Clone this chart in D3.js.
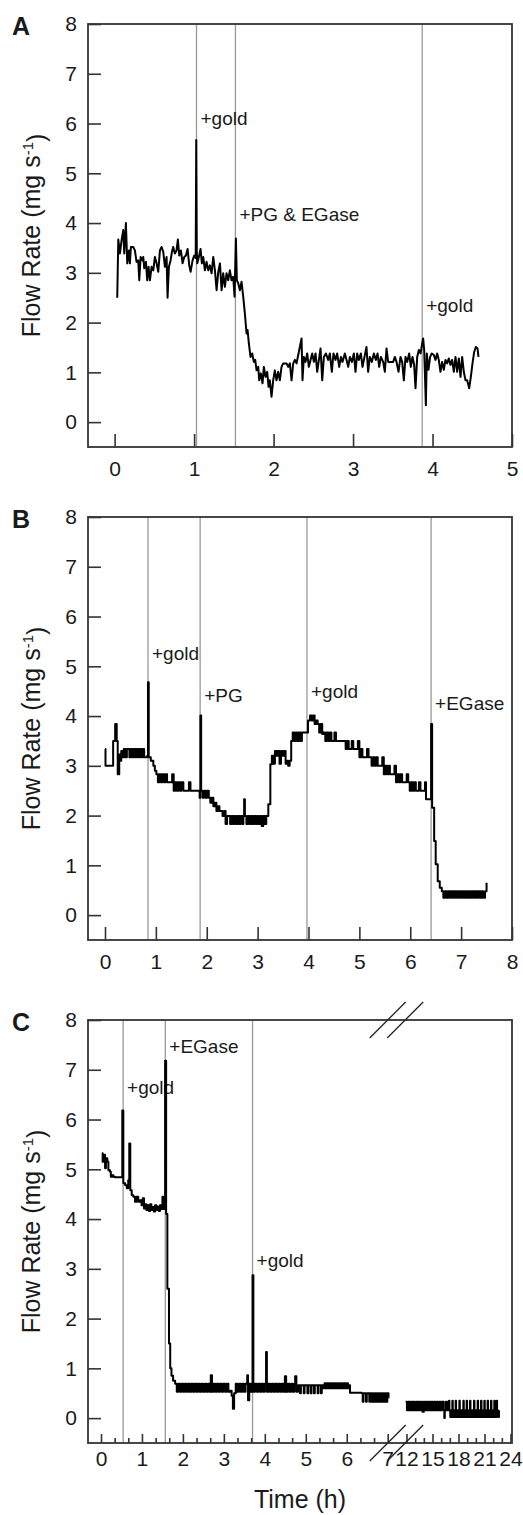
<!DOCTYPE html>
<html>
<head>
<meta charset="utf-8">
<script src="https://cdn.jsdelivr.net/npm/d3@7"></script>
<style>
  body { margin: 0; background: #fff; }
  text { font-family: "Liberation Sans", Arial, sans-serif; fill: #1a1a1a; }
</style>
</head>
<body>
<div id="chart"></div>
<script>

// ---- data (time in h, flow rate in mg s-1) ----

const flowA = [
  [0.033,2.50],[0.046,3.67],[0.067,3.39],[0.088,3.66],[0.109,3.86],[0.121,3.39],[0.142,4.00],[0.159,3.19],
  [0.180,3.45],[0.192,3.19],[0.205,3.52],[0.234,3.52],[0.255,3.45],[0.276,3.22],[0.297,3.25],[0.310,2.85],
  [0.327,3.32],[0.348,3.25],[0.360,3.32],[0.373,3.09],[0.394,3.22],[0.410,2.85],[0.427,3.12],[0.444,2.85],
  [0.465,3.12],[0.486,3.05],[0.507,3.32],[0.528,3.19],[0.549,3.02],[0.570,3.45],[0.591,3.52],[0.612,3.42],
  [0.633,3.12],[0.654,3.32],[0.666,2.50],[0.683,3.12],[0.704,3.25],[0.721,3.42],[0.737,3.52],[0.758,3.39],
  [0.779,3.45],[0.796,3.67],[0.813,3.35],[0.834,3.45],[0.855,3.19],[0.876,3.32],[0.897,3.35],[0.918,3.48],
  [0.939,3.15],[0.956,3.02],[0.981,3.25],[1.002,3.35],[1.020,3.30],[1.027,5.67],[1.034,3.40],[1.040,3.19],
  [1.060,3.32],[1.081,3.48],[1.098,3.19],[1.115,3.32],[1.136,3.05],[1.157,3.22],[1.178,3.05],[1.199,3.15],
  [1.220,2.99],[1.241,3.32],[1.262,3.05],[1.283,2.65],[1.304,3.02],[1.325,3.19],[1.346,2.65],[1.366,2.99],
  [1.387,2.72],[1.408,2.99],[1.429,2.85],[1.450,3.05],[1.471,2.85],[1.492,2.92],[1.509,2.52],[1.526,3.69],
  [1.538,2.85],[1.555,2.79],[1.576,2.65],[1.597,2.82],[1.618,2.52],[1.639,2.18],[1.660,1.78],[1.673,1.85],
  [1.689,1.58],[1.710,1.31],[1.731,1.38],[1.752,1.21],[1.769,1.25],[1.786,1.04],[1.807,1.11],[1.819,0.84],
  [1.840,0.98],[1.861,0.78],[1.878,1.11],[1.899,0.91],[1.920,1.01],[1.937,0.71],[1.953,0.84],[1.974,0.51],
  [1.995,0.84],[2.016,1.04],[2.037,0.84],[2.058,1.01],[2.079,0.84],[2.100,1.11],[2.121,1.18],[2.142,1.18],
  [2.163,1.18],[2.184,1.11],[2.205,1.18],[2.226,0.84],[2.247,1.18],[2.268,1.25],[2.289,1.18],[2.314,1.38],
  [2.352,1.68],[2.364,0.84],[2.381,1.31],[2.402,1.21],[2.423,1.38],[2.444,1.11],[2.465,1.25],[2.486,1.38],
  [2.507,1.21],[2.528,1.38],[2.549,1.01],[2.570,1.25],[2.591,1.48],[2.612,0.84],[2.633,1.31],[2.658,1.38],
  [2.687,1.25],[2.708,1.38],[2.733,1.01],[2.754,1.38],[2.779,1.25],[2.800,1.38],[2.826,1.11],[2.847,1.31],
  [2.867,1.21],[2.897,1.38],[2.918,1.25],[2.939,1.11],[2.960,1.31],[2.985,1.21],[3.010,1.38],[3.031,1.01],
  [3.052,1.38],[3.073,1.25],[3.098,1.38],[3.119,1.11],[3.144,1.31],[3.169,1.51],[3.190,1.01],[3.211,1.31],
  [3.236,1.21],[3.262,1.38],[3.287,1.25],[3.308,1.38],[3.329,1.11],[3.350,1.31],[3.379,1.21],[3.400,1.01],
  [3.421,1.48],[3.442,1.21],[3.463,1.21],[3.484,1.21],[3.505,1.21],[3.526,1.31],[3.547,1.21],[3.572,1.01],
  [3.597,1.31],[3.618,1.21],[3.639,0.84],[3.660,1.31],[3.681,1.21],[3.706,1.38],[3.727,1.11],[3.748,1.31],
  [3.769,1.15],[3.786,0.68],[3.807,1.31],[3.828,1.45],[3.849,1.38],[3.870,1.58],[3.882,1.68],[3.895,1.45],
  [3.903,1.05],[3.916,0.34],[3.928,1.38],[3.949,1.05],[3.970,1.31],[3.991,1.38],[4.016,1.35],[4.037,1.25],
  [4.058,1.38],[4.079,1.25],[4.100,1.01],[4.121,1.21],[4.142,1.05],[4.163,1.25],[4.184,1.18],[4.205,1.28],
  [4.226,1.15],[4.247,1.25],[4.268,1.01],[4.289,1.31],[4.310,1.01],[4.331,1.28],[4.352,0.91],[4.373,1.31],
  [4.394,1.01],[4.415,0.84],[4.436,0.84],[4.461,0.68],[4.482,0.91],[4.503,1.18],[4.524,1.41],[4.545,1.51],
  [4.566,1.48],[4.578,1.31]
];

const flowB = [
  [0.00,3.34],[0.01,3.00],[0.13,3.00],[0.16,3.50],[0.20,3.84],[0.23,3.50],[0.25,2.83],[0.28,3.23],
  [0.30,3.10],[0.32,3.30],[0.34,3.17],[0.37,3.34],[0.40,3.17],[0.43,3.34],[0.46,3.34],[0.48,3.17],
  [0.51,3.34],[0.54,3.17],[0.57,3.34],[0.60,3.17],[0.62,3.34],[0.65,3.17],[0.68,3.34],[0.71,3.17],
  [0.74,3.34],[0.77,3.17],[0.80,3.17],[0.83,3.20],[0.845,4.68],[0.86,3.17],[0.90,3.10],[0.95,3.00],
  [0.98,2.90],[1.01,2.83],[1.04,2.67],[1.07,2.83],[1.10,2.67],[1.13,2.83],[1.16,2.67],[1.19,2.83],
  [1.22,2.67],[1.26,2.67],[1.29,2.67],[1.32,2.83],[1.35,2.50],[1.38,2.67],[1.41,2.50],[1.44,2.67],
  [1.47,2.50],[1.50,2.67],[1.54,2.50],[1.58,2.50],[1.62,2.50],[1.65,2.67],[1.68,2.50],[1.72,2.50],
  [1.76,2.50],[1.80,2.50],[1.84,2.50],[1.86,2.36],[1.875,4.01],[1.89,2.50],[1.92,2.36],[1.95,2.50],
  [1.98,2.36],[2.01,2.50],[2.04,2.36],[2.07,2.26],[2.10,2.36],[2.13,2.19],[2.16,2.26],[2.19,2.09],
  [2.22,2.19],[2.25,2.09],[2.28,2.09],[2.31,1.99],[2.34,2.09],[2.37,1.83],[2.40,1.99],[2.43,1.99],
  [2.46,1.83],[2.49,1.99],[2.52,1.83],[2.55,1.99],[2.58,1.83],[2.61,1.99],[2.64,1.83],[2.67,1.99],
  [2.70,1.83],[2.72,1.99],[2.735,2.33],[2.75,1.99],[2.78,1.83],[2.81,1.99],[2.84,1.83],[2.87,1.99],
  [2.90,1.83],[2.93,1.99],[2.96,1.83],[2.99,1.99],[3.02,1.83],[3.05,1.99],[3.08,1.79],[3.11,1.99],
  [3.14,1.83],[3.17,1.99],[3.21,2.23],[3.25,3.03],[3.28,3.20],[3.31,3.04],[3.34,3.30],[3.37,3.20],
  [3.40,3.30],[3.43,3.04],[3.46,3.30],[3.49,3.20],[3.52,3.30],[3.55,3.04],[3.58,3.10],[3.60,3.00],
  [3.63,3.10],[3.66,3.50],[3.69,3.67],[3.72,3.50],[3.75,3.67],[3.78,3.50],[3.81,3.67],[3.84,3.50],
  [3.87,3.67],[3.90,3.67],[3.93,3.67],[3.96,3.67],[3.99,3.91],[4.03,4.01],[4.06,3.91],[4.09,4.01],
  [4.12,3.84],[4.15,3.91],[4.18,3.84],[4.21,3.67],[4.24,3.84],[4.27,3.64],[4.30,3.67],[4.33,3.50],
  [4.36,3.67],[4.39,3.50],[4.42,3.67],[4.45,3.50],[4.48,3.50],[4.51,3.67],[4.54,3.50],[4.58,3.50],
  [4.62,3.50],[4.66,3.50],[4.70,3.50],[4.73,3.34],[4.76,3.50],[4.79,3.34],[4.82,3.34],[4.85,3.50],
  [4.88,3.34],[4.91,3.34],[4.94,3.34],[4.97,3.50],[5.00,3.17],[5.03,3.34],[5.06,3.17],[5.09,3.17],
  [5.12,3.17],[5.15,3.34],[5.18,3.17],[5.21,3.17],[5.24,3.00],[5.27,3.17],[5.30,3.00],[5.33,3.17],
  [5.36,3.00],[5.39,3.00],[5.42,3.00],[5.45,3.17],[5.48,2.83],[5.51,3.00],[5.54,2.83],[5.57,3.00],
  [5.60,2.83],[5.63,2.83],[5.66,2.83],[5.69,3.00],[5.72,2.67],[5.75,2.83],[5.78,2.67],[5.81,2.83],
  [5.84,2.67],[5.87,2.67],[5.90,2.67],[5.93,2.83],[5.96,2.67],[5.99,2.50],[6.02,2.67],[6.05,2.50],
  [6.08,2.67],[6.11,2.50],[6.14,2.50],[6.17,2.67],[6.20,2.50],[6.23,2.50],[6.26,2.50],[6.29,2.67],
  [6.31,2.33],[6.34,2.33],[6.38,2.33],[6.40,2.33],[6.41,3.84],[6.43,2.16],[6.47,1.49],[6.50,1.02],
  [6.54,0.68],[6.58,0.55],[6.62,0.48],[6.65,0.35],[6.68,0.48],[6.71,0.35],[6.74,0.48],[6.77,0.35],
  [6.80,0.48],[6.83,0.35],[6.86,0.48],[6.89,0.35],[6.92,0.48],[6.95,0.35],[6.98,0.48],[7.01,0.35],
  [7.04,0.48],[7.07,0.35],[7.10,0.48],[7.13,0.35],[7.16,0.48],[7.19,0.35],[7.22,0.48],[7.25,0.35],
  [7.28,0.48],[7.31,0.35],[7.34,0.48],[7.37,0.35],[7.40,0.48],[7.43,0.35],[7.47,0.48],[7.50,0.65]
];

// panel C, first day (0-7 h)
const flowC1 = [
  [0.02,5.32],[0.04,5.15],[0.07,5.29],[0.10,5.02],[0.12,5.22],[0.155,5.15],[0.18,4.98],[0.22,4.95],
  [0.24,4.85],[0.27,4.88],[0.30,4.85],[0.34,4.84],[0.38,4.84],[0.42,4.84],[0.48,4.84],[0.52,6.18],
  [0.545,4.72],[0.59,4.68],[0.63,4.62],[0.665,4.78],[0.69,5.52],[0.715,4.58],[0.75,4.48],[0.79,4.45],
  [0.83,4.35],[0.87,4.45],[0.91,4.35],[0.95,4.38],[0.99,4.28],[1.02,4.42],[1.05,4.21],[1.08,4.30],
  [1.11,4.18],[1.14,4.28],[1.17,4.16],[1.20,4.30],[1.23,4.18],[1.26,4.24],[1.29,4.15],[1.32,4.28],
  [1.35,4.18],[1.38,4.25],[1.41,4.16],[1.44,4.28],[1.47,4.20],[1.50,4.45],[1.52,4.20],[1.565,7.18],
  [1.59,4.10],[1.62,2.60],[1.66,1.50],[1.69,1.00],[1.72,0.85],[1.76,0.75],[1.81,0.69],[1.85,0.53],
  [1.89,0.69],[1.93,0.53],[1.97,0.69],[2.01,0.53],[2.05,0.69],[2.09,0.53],[2.13,0.69],[2.17,0.53],
  [2.21,0.69],[2.25,0.53],[2.29,0.69],[2.33,0.53],[2.37,0.69],[2.41,0.53],[2.45,0.69],[2.49,0.53],
  [2.53,0.69],[2.57,0.53],[2.61,0.69],[2.65,0.53],[2.68,0.86],[2.71,0.53],[2.75,0.69],[2.79,0.53],
  [2.83,0.69],[2.87,0.53],[2.91,0.69],[2.95,0.53],[2.99,0.69],[3.03,0.53],[3.07,0.69],[3.11,0.53],
  [3.15,0.55],[3.19,0.45],[3.22,0.19],[3.25,0.50],[3.29,0.69],[3.33,0.53],[3.37,0.69],[3.41,0.53],
  [3.45,0.69],[3.49,0.53],[3.53,0.69],[3.57,0.86],[3.59,0.36],[3.62,0.69],[3.66,0.53],[3.70,2.87],
  [3.72,0.53],[3.76,0.69],[3.80,0.53],[3.84,0.69],[3.88,0.53],[3.92,0.69],[3.96,0.53],[4.00,0.69],
  [4.03,1.33],[4.05,0.53],[4.09,0.69],[4.13,0.53],[4.17,0.69],[4.21,0.53],[4.25,0.69],[4.29,0.53],
  [4.33,0.69],[4.37,0.53],[4.41,0.69],[4.45,0.53],[4.49,0.84],[4.52,0.53],[4.56,0.69],[4.60,0.53],
  [4.64,0.69],[4.68,0.53],[4.72,0.69],[4.74,0.84],[4.77,0.53],[4.81,0.66],[4.84,0.66],[4.86,0.50],
  [4.88,0.66],[4.93,0.66],[4.95,0.50],[4.97,0.66],[5.02,0.66],[5.04,0.50],[5.06,0.66],[5.10,0.66],
  [5.12,0.50],[5.14,0.66],[5.18,0.66],[5.20,0.50],[5.22,0.66],[5.27,0.66],[5.29,0.50],[5.31,0.66],
  [5.35,0.66],[5.37,0.50],[5.39,0.66],[5.43,0.60],[5.46,0.70],[5.49,0.60],[5.52,0.70],[5.55,0.60],
  [5.58,0.70],[5.61,0.60],[5.64,0.70],[5.67,0.60],[5.70,0.70],[5.73,0.60],[5.76,0.70],[5.79,0.60],
  [5.82,0.70],[5.85,0.60],[5.88,0.70],[5.91,0.60],[5.94,0.70],[5.97,0.60],[6.00,0.70],[6.03,0.60],
  [6.06,0.66],[6.08,0.51],[6.20,0.51],[6.37,0.50],[6.39,0.33],[6.41,0.50],[6.45,0.50],[6.47,0.33],
  [6.49,0.50],[6.53,0.50],[6.55,0.33],[6.57,0.50],[6.60,0.33],[6.63,0.50],[6.66,0.33],[6.69,0.50],
  [6.72,0.33],[6.75,0.50],[6.78,0.33],[6.81,0.50],[6.84,0.33],[6.87,0.50],[6.90,0.33],[6.93,0.50],
  [6.96,0.33],[6.99,0.50],[7.02,0.40]
];

// panel C, overnight (12-24 h)
const flowC2 = [
  [11.90,0.33],[12.05,0.16],[12.20,0.33],[12.35,0.16],[12.50,0.33],[12.65,0.16],[12.80,0.33],[12.95,0.16],
  [13.10,0.33],[13.25,0.16],[13.40,0.33],[13.55,0.16],[13.70,0.33],[13.85,0.13],[14.00,0.33],[14.15,0.16],
  [14.30,0.33],[14.45,0.16],[14.60,0.33],[14.75,0.16],[14.90,0.33],[15.05,0.16],[15.20,0.33],[15.35,0.16],
  [15.50,0.33],[15.65,0.16],[15.80,0.33],[15.95,0.16],[16.10,0.33],[16.30,0.16],[16.36,0.00],[16.42,0.16],
  [16.55,0.33],[16.70,0.16],[16.83,0.33],[16.90,0.35],[16.95,0.16],[17.05,0.02],[17.15,0.16],[17.24,0.02],
  [17.29,0.35],[17.34,0.16],[17.44,0.02],[17.54,0.16],[17.62,0.02],[17.67,0.35],[17.72,0.16],[17.82,0.02],
  [17.92,0.16],[18.04,0.02],[18.10,0.35],[18.15,0.16],[18.25,0.02],[18.35,0.16],[18.45,0.02],[18.56,0.35],
  [18.61,0.16],[18.71,0.02],[18.81,0.16],[18.89,0.02],[18.94,0.35],[18.99,0.16],[19.09,0.02],[19.19,0.16],
  [19.28,0.02],[19.33,0.35],[19.38,0.16],[19.48,0.02],[19.58,0.16],[19.68,0.02],[19.79,0.35],[19.84,0.16],
  [19.94,0.02],[20.04,0.16],[20.14,0.02],[20.21,0.35],[20.26,0.16],[20.36,0.02],[20.46,0.16],[20.55,0.02],
  [20.60,0.35],[20.65,0.16],[20.75,0.02],[20.85,0.16],[20.93,0.02],[20.98,0.35],[21.03,0.16],[21.13,0.02],
  [21.23,0.16],[21.31,0.02],[21.36,0.35],[21.41,0.16],[21.51,0.02],[21.61,0.16],[21.70,0.02],[21.75,0.35],
  [21.80,0.16],[21.90,0.02],[22.00,0.16],[22.08,0.02],[22.13,0.35],[22.18,0.16],[22.28,0.02],[22.36,0.16],
  [22.40,0.35],[22.45,0.16],[22.55,0.02],[22.67,0.16]
];

const eventsA = [1.03, 1.52, 3.87];
const eventLabelsA = ['+gold', '+PG & EGase', '+gold'];
const eventLabelLevelA = [5.98, 4.04, 2.21];

const eventsB = [0.845, 1.87, 3.97, 6.41];
const eventLabelsB = ['+gold', '+PG', '+gold', '+EGase'];
const eventLabelLevelB = [5.12, 4.28, 4.36, 4.12];

const eventsC = [0.54, 1.57, 3.70];
const eventLabelsC = ['+gold', '+EGase', '+gold'];
const eventLabelLevelC = [6.51, 7.34, 3.04];

const yTicks = [0, 1, 2, 3, 4, 5, 6, 7, 8];
const xTicksA = [0, 1, 2, 3, 4, 5];
const xTicksB = [0, 1, 2, 3, 4, 5, 6, 7, 8];
const xTicksC1 = [0, 1, 2, 3, 4, 5, 6, 7];
const xTicksC2 = [12, 15, 18, 21, 24];

// ---- drawing ----

const left = 88, right = 512, plotH = 423;

const svg = d3.select('#chart').append('svg')
    .attr('width', 523)
    .attr('height', 1515);

function panel(top, letter) {
    const y = d3.scaleLinear().domain([-0.5, 8]).range([top + plotH, top]);
    const g = svg.append('g');

    g.append('text')
        .attr('x', 12).attr('y', top + 11)
        .style('font-size', '25px').style('font-weight', 'bold')
        .text(letter);

    const title = g.append('text')
        .attr('transform', `translate(40,${top + plotH / 2}) rotate(-90)`)
        .attr('text-anchor', 'middle')
        .style('font-size', '25px');
    title.append('tspan').text('Flow Rate (mg s');
    title.append('tspan').attr('dy', '-0.45em').style('font-size', '15px').text('-1');
    title.append('tspan').attr('dy', '0.45em').text(')');

    return { g, y, top };
}

function events(p, x, times, labels, levels) {
    p.g.selectAll(null).data(times).enter().append('line')
        .attr('x1', d => x(d)).attr('x2', d => x(d))
        .attr('y1', p.top).attr('y2', p.top + plotH)
        .attr('stroke', '#999').attr('stroke-width', 1.3);
    p.g.selectAll(null).data(times).enter().append('text')
        .attr('x', d => x(d) + 4)
        .attr('y', (d, i) => p.y(levels[i]))
        .style('font-size', '19px')
        .text((d, i) => labels[i]);
}

function trace(p, x, data, curve) {
    const line = d3.line()
        .x(d => x(d[0]))
        .y(d => p.y(d[1]))
        .curve(curve || d3.curveLinear);
    p.g.append('path')
        .datum(data)
        .attr('fill', 'none')
        .attr('stroke', '#000')
        .attr('stroke-width', 2)
        .attr('stroke-linejoin', 'round')
        .attr('d', line);
}

function frame(p) {
    p.g.append('rect')
        .attr('x', left).attr('y', p.top)
        .attr('width', right - left).attr('height', plotH)
        .attr('fill', 'none').attr('stroke', '#333').attr('stroke-width', 1.8);
    const ax = p.g.append('g')
        .attr('transform', `translate(${left},0)`)
        .call(d3.axisLeft(p.y).tickValues(yTicks).tickFormat(d3.format('d'))
            .tickSizeInner(-13).tickSizeOuter(0).tickPadding(11));
    styleAxis(ax);
}

function styleAxis(ax) {
    ax.select('.domain').remove();
    ax.selectAll('line').attr('stroke', '#333').attr('stroke-width', 1.6);
    ax.selectAll('text').style('font-size', '21px').attr('fill', '#1a1a1a')
        .style('font-family', '"Liberation Sans", Arial, sans-serif');
}

function bottomAxis(p, x, ticks, size, pad, labelled) {
    const axis = d3.axisBottom(x).tickValues(ticks)
        .tickSizeInner(-size).tickSizeOuter(0).tickPadding(pad)
        .tickFormat(labelled ? d3.format('d') : '');
    const ax = p.g.append('g')
        .attr('transform', `translate(0,${p.top + plotH})`)
        .call(axis);
    styleAxis(ax);
}

// panel A
const pA = panel(24, 'A');
const xA = d3.scaleLinear().domain([-0.335, 5]).range([left, right]);
events(pA, xA, eventsA, eventLabelsA, eventLabelLevelA);
trace(pA, xA, flowA);
frame(pA);
bottomAxis(pA, xA, xTicksA, 13, 14, true);

// panel B
const pB = panel(517, 'B');
const xB = d3.scaleLinear().domain([-0.334, 8]).range([left, right]);
events(pB, xB, eventsB, eventLabelsB, eventLabelLevelB);
trace(pB, xB, flowB, d3.curveStepAfter);
frame(pB);
bottomAxis(pB, xB, xTicksB, 13, 14, true);

// panel C: broken time axis
const pC = panel(1020, 'C');
const xC1 = d3.scaleLinear().domain([0, 7]).range([101, 387.7]);
const xC2 = d3.scaleLinear().domain([12, 24]).range([406.5, 510.5]);
events(pC, xC1, eventsC, eventLabelsC, eventLabelLevelC);
trace(pC, xC1, flowC1, d3.curveStepAfter);
trace(pC, xC2, flowC2, d3.curveStepAfter);
frame(pC);
bottomAxis(pC, xC1, xTicksC1, 9, 8, true);
bottomAxis(pC, xC1, d3.range(0, 7, 1 / 3).filter((d, i) => i % 3 !== 0), 5, 8, false);
bottomAxis(pC, xC2, xTicksC2, 9, 8, true);
bottomAxis(pC, xC2, d3.range(13, 24).filter(d => d % 3 !== 0), 5, 8, false);

// break marks
const breakX = [xC1(7), xC1(7) + 17.5];
[pC.top, pC.top + plotH].forEach(yy => {
    breakX.forEach(cx => {
        pC.g.append('line')
            .attr('x1', cx - 18).attr('y1', yy + 18)
            .attr('x2', cx + 18).attr('y2', yy - 18)
            .attr('stroke', '#222').attr('stroke-width', 1.3);
    });
});

svg.append('text')
    .attr('x', 300).attr('y', 1508)
    .attr('text-anchor', 'middle')
    .style('font-size', '25px')
    .text('Time (h)');

</script>
</body>
</html>
